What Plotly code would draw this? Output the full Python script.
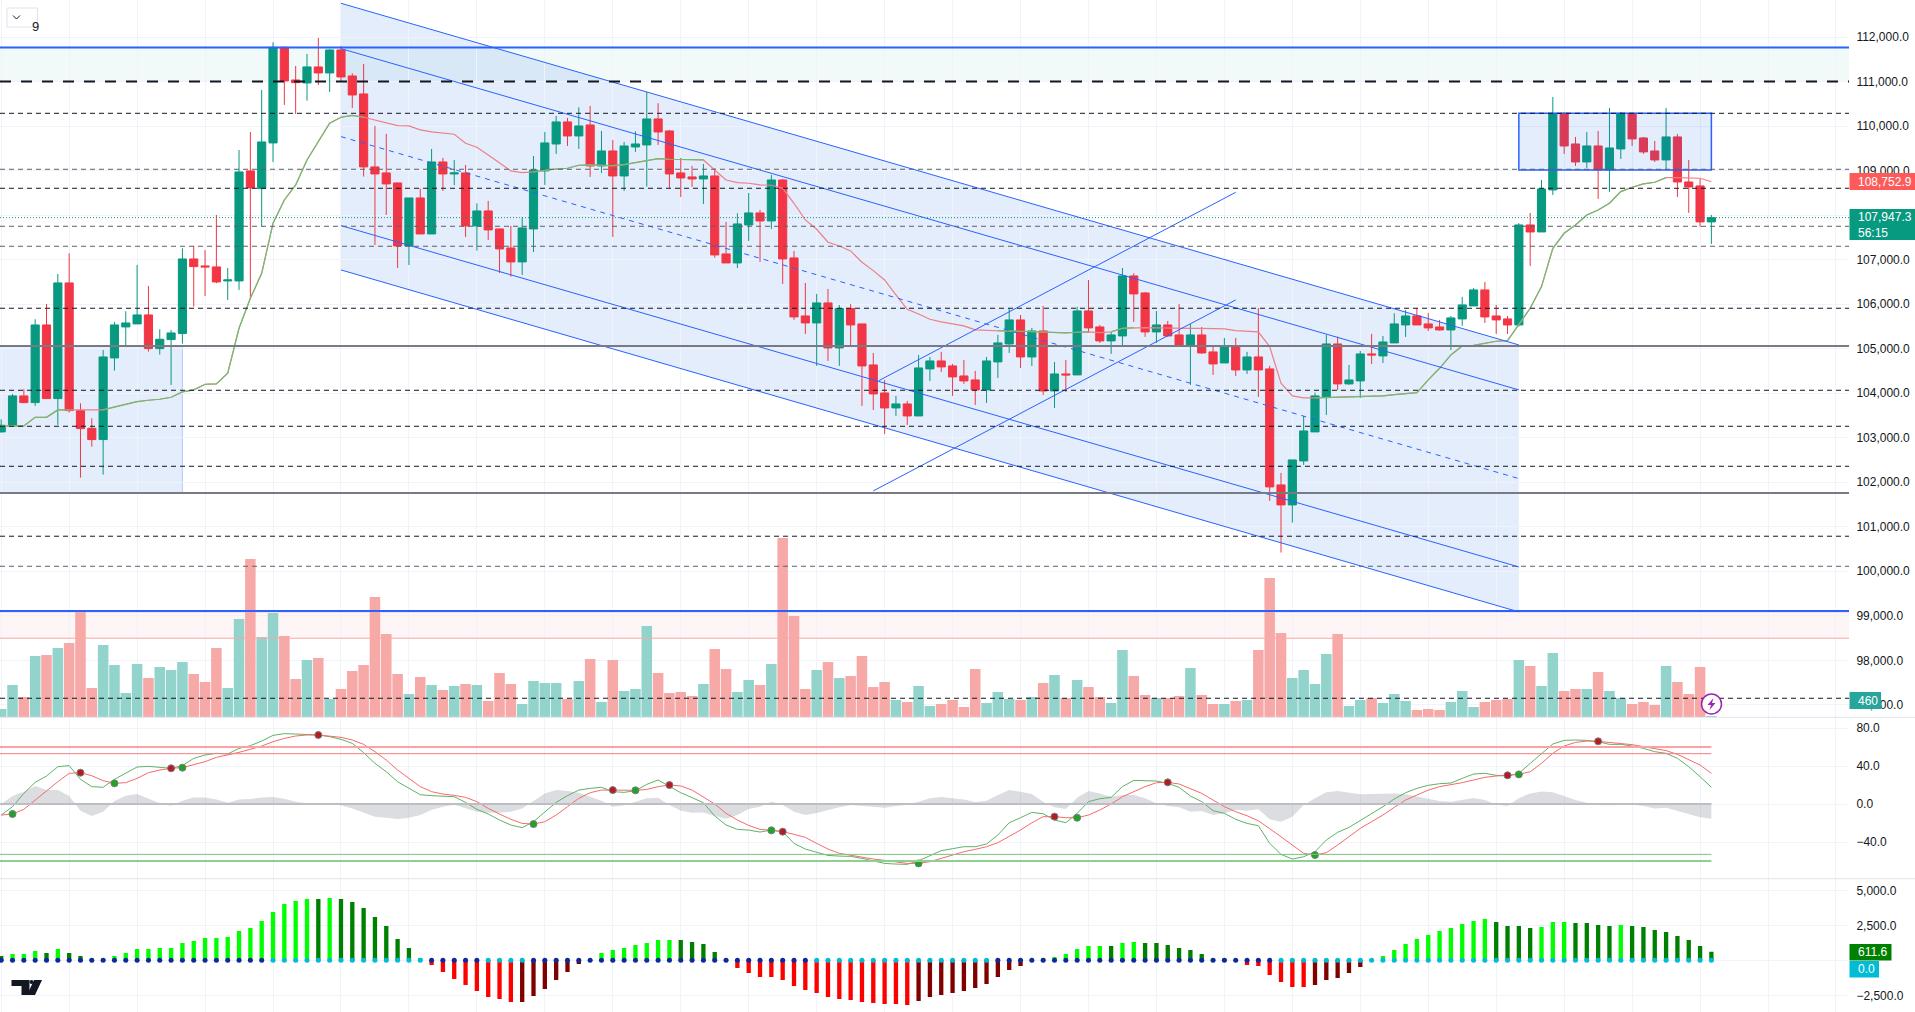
import plotly.graph_objects as go
from plotly.subplots import make_subplots

# candles
opens = [103132, 103267, 103941, 103791, 105536, 103881, 106480, 103611, 103214, 102960,
         104795, 105491, 105559, 105761, 105004, 105207, 105342, 107019, 106862, 106840,
         106525, 106525, 108997, 108600, 109626, 111775, 111041, 110974, 111334, 111199,
         111715, 111131, 110727, 109087, 108952, 108727, 107311, 108390, 107581, 109199,
         108929, 108952, 107761, 108098, 107693, 107266, 106952, 107693, 108997, 109603,
         110098, 109783, 110030, 109109, 109446, 108884, 109536, 109581, 110165, 109895,
         108952, 108862, 108817, 108884, 107132, 106929, 107783, 108053, 107873, 108794,
         107042, 105738, 105581, 106031, 105019, 105903, 105559, 104637, 104008, 103671,
         103761, 103491, 104548, 104727, 104615, 104390, 104300, 104076, 104705, 105109,
         105649, 104817, 105401, 104053, 104435, 104413, 105851, 105491, 105177, 105289,
         106637, 106255, 105379, 105536, 105312, 105087, 105312, 104930, 104682, 105042,
         104525, 104817, 104548, 101941, 101492, 102480, 103132, 103918, 105109, 104211,
         104278, 104885, 104840, 105132, 105536, 105738, 105559, 105491, 105424, 105671,
         105963, 106323, 105738, 105671, 105536, 107783, 107626, 108570, 110292, 109603,
         109199, 109558, 109019, 109491, 110292, 109738, 109446, 109244, 109761, 108749,
         108660, 107851]
highs = [103417, 103986, 104091, 105664, 106008, 106682, 107147, 103776, 103439, 104974,
         105604, 105843, 106884, 106413, 105439, 105424, 107259, 107311, 107221, 108008,
         106817, 109468, 109873, 110817, 111888, 111790, 111356, 111626, 111985, 111730,
         111805, 111191, 111401, 110008, 109828, 108734, 108390, 108600, 109491, 109289,
         109244, 109131, 108270, 108323, 107701, 107761, 107956, 109334, 109873, 110232,
         110188, 110427, 110457, 109895, 109693, 109648, 109888, 110772, 110517, 109918,
         109289, 109109, 109154, 109057, 107851, 108045, 108502, 108120, 108907, 108817,
         107199, 106480, 106233, 106345, 105986, 106008, 105559, 104907, 104300, 103941,
         103829, 104862, 104817, 104930, 104660, 104750, 104503, 104817, 105312, 105896,
         105761, 105469, 105963, 104705, 104750, 105941, 106547, 105536, 105379, 106817,
         106697, 106278, 105851, 105626, 106008, 105559, 105491, 105064, 105244, 105244,
         104930, 105918, 104615, 102211, 102503, 103491, 104016, 105312, 105274, 104637,
         104952, 105334, 105289, 105798, 105873, 105918, 105806, 105649, 105738, 106165,
         106368, 106502, 105986, 105738, 107821, 108053, 108794, 110659, 110322, 109761,
         109873, 109895, 110412, 110322, 110292, 109761, 109671, 110412, 109828, 109244,
         108817, 108008]
lows = [103117, 103252, 103776, 103716, 103873, 103289, 103566, 102106, 102802, 102173,
        104510, 105079, 105559, 104937, 104870, 104188, 105117, 105948, 106188, 106472,
        106098, 106323, 106113, 107746, 109199, 110480, 110277, 110577, 110929, 110772,
        111019, 110412, 108869, 107334, 108008, 106817, 106884, 107581, 107581, 108547,
        108675, 107514, 107207, 107446, 106705, 106622, 106660, 107177, 108682, 109379,
        109558, 109491, 108862, 108952, 107514, 108547, 109424, 108645, 109581, 108615,
        108412, 108637, 108255, 107049, 106929, 106817, 107424, 106952, 107693, 106458,
        105649, 105334, 104615, 104727, 104615, 105064, 103716, 103626, 103087, 103491,
        103289, 103491, 104278, 104480, 103941, 104211, 103739, 103784, 104345, 104907,
        104570, 104615, 103963, 103671, 104031, 104413, 105356, 105132, 104885, 105064,
        105604, 105267, 105132, 105267, 105087, 104188, 104885, 104413, 104682, 104390,
        104435, 103918, 101582, 100421, 101095, 102390, 103132, 103514, 104076, 104188,
        103896, 104660, 104682, 105132, 105267, 105536, 105401, 105409, 104974, 105514,
        105963, 105581, 105334, 105334, 105499, 106862, 107626, 108457, 109379, 109109,
        109064, 108367, 108525, 109266, 109558, 109379, 109199, 109019, 108412, 108053,
        107738, 107356]
closes = [103282, 103941, 103791, 105536, 103881, 106480, 103611, 103207, 102960, 104817,
          105536, 105581, 105761, 105004, 105214, 105356, 107019, 106847, 106840, 106502,
          106547, 108974, 108615, 109648, 111775, 111019, 110981, 111334, 111199, 111715,
          111109, 110704, 109087, 108929, 108705, 107311, 108390, 107581, 109199, 108929,
          108952, 107761, 108098, 107671, 107244, 106952, 107716, 109019, 109626, 110098,
          109783, 110008, 109109, 109446, 108884, 109558, 109603, 110165, 109873, 108929,
          108839, 108817, 108884, 107109, 106929, 107806, 108053, 107873, 108794, 107019,
          105716, 105581, 106031, 105019, 105903, 105536, 104615, 103986, 103671, 103761,
          103491, 104570, 104727, 104593, 104368, 104278, 104076, 104727, 105132, 105649,
          104817, 105401, 104053, 104435, 104413, 105851, 105469, 105177, 105312, 106637,
          106233, 105379, 105536, 105289, 105087, 105312, 104907, 104660, 105042, 104525,
          104817, 104525, 101896, 101492, 102503, 103154, 103941, 105109, 104211, 104300,
          104885, 104862, 105154, 105559, 105738, 105536, 105469, 105424, 105694, 105986,
          106323, 105716, 105649, 105536, 107783, 107626, 108592, 110292, 109558, 109199,
          109558, 109019, 109513, 110292, 109716, 109424, 109244, 109761, 108749, 108637,
          107851, 107947.3]
volumes = [2875, 11155, 7015, 21160, 21505, 23920, 25645, 36685, 10120, 24955,
           18055, 8395, 18400, 13570, 17365, 16330, 19090, 14950, 12190, 23920,
           10120, 33925, 54625, 27715, 35995, 28060, 13225, 19780, 20470, 6325,
           9775, 15985, 18055, 41515, 28750, 14950, 8050, 13915, 11155, 9430,
           10810, 11500, 11155, 5635, 15295, 11500, 4600, 12535, 11845, 11845,
           6325, 12535, 20125, 5290, 19780, 9085, 9775, 31510, 15295, 8395,
           8740, 7360, 11500, 23575, 16675, 8740, 12880, 11155, 18400, 61870,
           34960, 9775, 16330, 19090, 13570, 14260, 21160, 10465, 12190, 5980,
           5290, 10810, 3910, 4600, 5980, 3565, 16675, 4945, 8740, 6325,
           5980, 7015, 11845, 14605, 6670, 12880, 10465, 7015, 4945, 23230,
           14260, 7705, 6670, 6670, 7360, 17020, 7705, 4600, 4600, 5635,
           5980, 23230, 48070, 29095, 13570, 16330, 11500, 21850, 28750, 3910,
           5980, 6670, 4945, 8050, 5635, 2530, 2875, 2530, 5290, 9085,
           3565, 5290, 5980, 6325, 19780, 17710, 10810, 22195, 9085, 9775,
           9775, 15640, 9085, 6670, 4600, 5290, 4255, 17710, 12190, 8050,
           17365, 460]
ema = [103267, 103267, 103267, 103461, 103461, 103627, 103627, 103611, 103611, 103627,
       103694, 103754, 103814, 103844, 103866, 103911, 104031, 104076, 104203, 104211,
       104450, 105461, 106135, 106697, 107821, 108345, 108682, 109244, 109656, 110068,
       110203, 110247, 110203, 110143, 110083, 110015, 110008, 109918, 109873, 109843,
       109821, 109618, 109528, 109356, 109184, 108997, 108959, 108974, 109012, 109042,
       109057, 109124, 109131, 109117, 109117, 109139, 109184, 109229, 109274, 109259,
       109259, 109251, 109244, 109019, 108794, 108734, 108720, 108682, 108675, 108607,
       108270, 107896, 107686, 107394, 107311, 107199, 106944, 106757, 106547, 106210,
       105888, 105783, 105664, 105604, 105566, 105514, 105424, 105409, 105409, 105394,
       105394, 105387, 105379, 105372, 105357, 105372, 105379, 105364, 105379, 105461,
       105476, 105476, 105469, 105461, 105461, 105461, 105461, 105454, 105446, 105409,
       105394, 105379, 105049, 104226, 103941, 103896, 103896, 103904, 103911, 103918,
       103926, 103933, 103941, 103971, 104001, 104016, 104300, 104562, 104862, 105064,
       105079, 105124, 105169, 105184, 105536, 105911, 106398, 107259, 107596, 107783,
       108008, 108120, 108270, 108532, 108630, 108705, 108742, 108847, 108847, 108839,
       108832, 108752.9]
ema_up_spans = [(0, 6), (9, 32), (47, 62), (88, 96), (98, 100), (116, 147)]

# oscillator pane
wt_fast = [-11.6, -2.8, 11.2, 22.8, 29.5, 39.3, 40.4, 26.0, 18.3, 17.6,
           26.0, 32.3, 39.0, 39.7, 39.0, 37.6, 40.4, 48.1, 51.6, 53.4,
           52.7, 58.6, 61.4, 66.3, 72.3, 74.1, 73.7, 73.0, 72.7, 70.9,
           68.1, 63.9, 54.1, 42.8, 34.0, 23.5, 16.5, 9.8, 8.8, 8.1,
           7.7, 1.8, -5.6, -10.5, -16.8, -22.1, -24.9, -18.6, -8.1, 1.8,
           8.8, 14.7, 16.5, 17.6, 13.0, 12.3, 14.0, 20.7, 25.3, 19.0,
           11.9, 6.7, 1.4, -12.6, -22.1, -26.7, -27.4, -29.5, -27.4, -29.1,
           -41.4, -47.4, -50.9, -54.1, -54.8, -55.1, -57.2, -60.0, -62.5, -63.2,
           -63.5, -59.7, -54.8, -49.1, -47.0, -44.9, -44.9, -42.1, -32.6, -19.7,
           -14.4, -8.8, -10.2, -16.8, -19.7, -9.8, 2.5, 5.6, 7.0, 18.3,
           24.9, 24.9, 24.2, 21.8, 17.6, 8.4, 2.5, -7.0, -9.8, -16.1,
           -20.4, -22.8, -41.4, -53.0, -57.9, -55.5, -50.2, -37.9, -29.8, -24.6,
           -17.6, -9.8, -2.8, 5.3, 11.9, 16.5, 19.7, 21.4, 22.1, 27.0,
           31.6, 32.3, 30.2, 29.5, 32.3, 42.8, 53.4, 63.2, 67.0, 67.4,
           67.0, 65.6, 62.8, 62.8, 61.1, 58.6, 55.1, 53.4, 48.1, 39.3,
           28.8, 17.6]
wt_slow = [-11.6, -10.5, -5.6, 4.2, 14.7, 23.5, 32.3, 33.0, 29.8, 24.6,
           21.8, 22.5, 27.0, 33.0, 35.8, 37.6, 38.3, 41.1, 44.6, 49.1,
           51.6, 54.4, 57.6, 61.1, 65.6, 69.1, 71.6, 72.7, 72.7, 71.6,
           70.2, 67.4, 62.8, 55.1, 46.3, 35.8, 27.0, 18.3, 13.0, 10.5,
           9.1, 7.0, 2.5, -4.6, -10.5, -16.1, -20.4, -21.1, -18.6, -11.6,
           -2.8, 6.0, 11.9, 14.7, 14.7, 14.7, 14.4, 15.4, 18.3, 20.0,
           19.0, 14.7, 7.7, 0, -9.8, -16.8, -22.5, -26.7, -27.7, -29.1,
           -31.9, -35.1, -41.4, -47.4, -51.9, -54.1, -56.2, -57.9, -59.3, -60.7,
           -62.5, -62.5, -60.7, -57.2, -53.7, -50.2, -47.7, -44.9, -40.7, -34.4,
           -27.4, -19.7, -13.3, -13.3, -14.4, -14.4, -11.6, -6.3, 0, 7.7,
           13.0, 18.3, 22.5, 22.8, 21.1, 16.5, 11.2, 4.2, -2.8, -8.1,
           -12.3, -17.6, -25.6, -34.4, -43.2, -51.9, -53.7, -51.2, -43.2, -34.4,
           -25.6, -18.6, -11.6, -3.5, 4.2, 9.5, 14.7, 18.3, 20.0, 22.5,
           25.3, 28.1, 29.5, 30.2, 31.2, 34.0, 42.8, 53.4, 61.1, 64.9,
           66.3, 66.0, 64.9, 63.9, 62.5, 60.4, 58.6, 56.2, 52.3, 47.0,
           41.1, 32.3]
wt_diff = [0, 8.4, 13.0, 19.0, 14.7, 14.7, 8.4, -7.0, -12.6, -8.1,
           3.2, 8.8, 10.5, 5.3, 0.7, -1.8, 3.5, 7.0, 7.0, 4.9,
           1.4, 4.9, 5.3, 7.0, 7.4, 5.6, 2.5, 0.7, 0, -0.7,
           -1.4, -4.6, -9.1, -13.3, -14.4, -15.8, -14.4, -11.6, -6.3, -2.8,
           -0.7, -4.6, -8.1, -9.1, -9.1, -8.1, -4.6, 3.2, 11.2, 14.7,
           13.7, 11.9, 7.7, 3.5, -2.8, -1.4, 2.5, 6.0, 6.7, -1.1,
           -7.0, -9.1, -8.8, -12.6, -15.4, -11.6, -5.3, -2.8, 2.5, -1.1,
           -8.1, -11.6, -9.5, -6.3, -3.5, -1.1, -2.1, -3.5, -3.9, -2.1,
           -0.7, 2.5, 6.0, 7.4, 6.0, 4.9, 2.1, 3.5, 9.5, 14.7,
           13.0, 10.5, 2.5, -3.5, -5.3, 6.7, 13.7, 11.2, 7.7, 9.5,
           9.5, 6.0, 0.7, -2.1, -3.5, -8.1, -7.4, -11.6, -9.8, -6.3,
           -7.0, -5.6, -16.1, -18.6, -13.3, -1.1, 6.0, 12.3, 13.7, 11.9,
           10.2, 10.5, 11.2, 11.2, 10.2, 7.7, 5.3, 3.2, 2.5, 4.2,
           6.3, 4.2, -0.4, -2.1, 6.0, 11.2, 13.3, 12.3, 8.4, 4.2,
           1.4, -1.1, -1.4, -0.7, -0.4, -2.1, -4.6, -3.9, -7.0, -10.5,
           -14.0, -15.4]
cross_down_bars = [7, 15, 28, 54, 59, 69, 93, 103, 133, 141]
cross_up_bars = [1, 10, 16, 47, 56, 68, 81, 95, 116, 134]
osc_ticks = [80, 40, 0, -40]
osc_red_levels = [60, 53]
osc_green_levels = [-53, -60]

# squeeze momentum pane
momentum = [309, 452, 452, 666, 524, 809, 524, 309, 71, 71,
            309, 524, 809, 809, 881, 881, 1238, 1380, 1595, 1595,
            1666, 2094, 2309, 2808, 3451, 4022, 4236, 4379, 4379, 4451,
            4379, 4165, 3737, 3094, 2451, 1523, 881, 167, -333, -833,
            -1333, -1761, -2190, -2618, -2761, -2975, -2975, -2547, -2047, -1404,
            -833, -262, -20, 524, 738, 881, 1095, 1238, 1452, 1452,
            1452, 1309, 1166, 595, 71, -547, -904, -1190, -1190, -1404,
            -1833, -2118, -2332, -2618, -2761, -2832, -2975, -3046, -3118, -3118,
            -3189, -2904, -2618, -2475, -2332, -2190, -1975, -1690, -1190, -690,
            -405, -20, 143, 238, 452, 809, 1023, 1023, 1023, 1238,
            1309, 1238, 1238, 1095, 881, 738, 452, 71, 71, 20,
            -333, -405, -1047, -1547, -1904, -1904, -1761, -1404, -1261, -904,
            -476, -20, 309, 738, 1166, 1523, 1809, 2094, 2309, 2594,
            2808, 2951, 2737, 2451, 2451, 2309, 2380, 2737, 2737, 2666,
            2666, 2523, 2451, 2523, 2451, 2380, 2166, 2023, 1737, 1452,
            1023, 611.6]
momentum_kinds = ("g" + "l" * 3 + "g" + "l" + "g" * 4 + "l" * 18 + "g" + "l" + "g" * 7 + "l"
                  + "r" * 8 + "m" * 7 + "l" * 7 + "g" * 5 + "r" * 16 + "m" * 11 + "l" * 6
                  + "g" + "l" * 2 + "g" * 9 + "r" * 6 + "m" * 6 + "l" * 10 + "g" * 4 + "l" * 3
                  + "g" * 4 + "l" + "g" * 8)
squeeze_kinds = "b" * 24 + "c" * 14 + "b" * 5 + "c" * 4 + "b" * 25 + "c" * 16 + "b" * 25 + "c" * 39
momentum_ticks = [5000, 2500, 0, -2500]
# the 0.0 tag sits on top of the zero tick
momentum_tick_labels = ["5,000.0", "2,500.0", "", "\u22122,500.0"]

# drawings on the price pane
price_ticks = [112000, 111000, 110000, 109000, 108000, 107000, 106000, 105000,
               104000, 103000, 102000, 101000, 100000, 99000, 98000, 97000]
black_levels = [110292, 108607, 105911, 104068, 103259, 102360, 100788, 97147]
gray_dash_levels = [109034, 107753, 107304, 100113]
gray_solid_levels = [105064, 101761]
blue_levels = [111768, 99110]
upper_zone = (111004, 111768)
lower_zone = (98496, 99090)
last_price = 107947.3
channel_bars = (30, 134)
channel_top = (112764, 105087)
channel_upper = (111745, 104076)
channel_mid = (109768, 102083)
channel_lower = (107768, 100098)
channel_bottom = (106772, 99088)
rising_upper = ((77.5, 104286), (109, 108517))
rising_lower = ((77, 101806), (109, 106098))
left_box = (-1, 16, 101761, 105064)
range_box = (134, 151, 109019, 110292)

for name, arr in [("opens", opens), ("highs", highs), ("lows", lows), ("closes", closes),
                  ("volumes", volumes), ("ema", ema), ("wt_fast", wt_fast), ("wt_slow", wt_slow),
                  ("wt_diff", wt_diff), ("momentum", momentum), ("kinds", momentum_kinds),
                  ("squeeze", squeeze_kinds)]:
    if len(arr) != 152:
        raise ValueError(f"{name} has {len(arr)}")

UP = "#089981"
DOWN = "#F23645"
BLUE = "#2962FF"
GRID = "#F0F3FA"
TEXT = "#131722"
W, H = 1915, 1012
PLOT_W = 1849
bars = list(range(len(closes)))


def px(x):
    return x / PLOT_W


def py(y):
    return 1 - y / H


fig = make_subplots(rows=3, cols=1, shared_xaxes=True, vertical_spacing=0,
                    row_heights=[717.3, 161.4, 133.3],
                    specs=[[{"secondary_y": True}], [{}], [{}]])

# price pane
fig.add_trace(go.Candlestick(
    x=bars, open=opens, high=highs, low=lows, close=closes,
    increasing=dict(line=dict(color=UP, width=1), fillcolor=UP),
    decreasing=dict(line=dict(color=DOWN, width=1), fillcolor=DOWN),
    whiskerwidth=0, hoverinfo="skip", showlegend=False), row=1, col=1)
fig.add_trace(go.Scatter(x=bars, y=ema, mode="lines", line=dict(color="#EE7F86", width=1.2),
                         hoverinfo="skip", showlegend=False), row=1, col=1)
for a, b in ema_up_spans:
    fig.add_trace(go.Scatter(x=bars[a:b + 1], y=ema[a:b + 1], mode="lines",
                             line=dict(color="#6DBE72", width=1.2),
                             hoverinfo="skip", showlegend=False), row=1, col=1)
vol_colors = ["#92D3CC" if c >= o else "#F7A9A7" for o, c in zip(opens, closes)]
fig.add_trace(go.Bar(x=bars, y=volumes, marker=dict(color=vol_colors, line_width=0), width=0.93,
                     hoverinfo="skip", showlegend=False), row=1, col=1, secondary_y=True)

# oscillator pane
fig.add_trace(go.Scatter(x=bars, y=wt_diff, mode="lines", line=dict(width=0), fill="tozeroy",
                         fillcolor="rgba(120,123,134,0.26)", hoverinfo="skip", showlegend=False),
              row=2, col=1)
fig.add_trace(go.Scatter(x=bars, y=wt_fast, mode="lines", line=dict(color="#5FB266", width=1),
                         hoverinfo="skip", showlegend=False), row=2, col=1)
fig.add_trace(go.Scatter(x=bars, y=wt_slow, mode="lines", line=dict(color="#F56B6B", width=1),
                         hoverinfo="skip", showlegend=False), row=2, col=1)
fig.add_trace(go.Scatter(x=cross_down_bars, y=[wt_slow[i] for i in cross_down_bars], mode="markers",
                         marker=dict(color="#B71C1C", size=7, line=dict(color="#787B86", width=1)),
                         hoverinfo="skip", showlegend=False), row=2, col=1)
fig.add_trace(go.Scatter(x=cross_up_bars, y=[wt_slow[i] for i in cross_up_bars], mode="markers",
                         marker=dict(color="#1FA51F", size=7, line=dict(color="#787B86", width=1)),
                         hoverinfo="skip", showlegend=False), row=2, col=1)

# momentum pane
kind_colors = {"l": "#00FF00", "g": "#008000", "r": "#FF0000", "m": "#800000"}
dot_colors = {"b": "#0D2A9B", "c": "#00BCD4"}
fig.add_trace(go.Bar(x=bars, y=momentum, marker=dict(color=[kind_colors[k] for k in momentum_kinds], line_width=0),
                     width=0.38, hoverinfo="skip", showlegend=False), row=3, col=1)
fig.add_trace(go.Scatter(x=bars, y=[0] * len(bars), mode="markers",
                         marker=dict(color=[dot_colors[k] for k in squeeze_kinds], size=5),
                         hoverinfo="skip", showlegend=False), row=3, col=1)

# zones and channels
fill_blue = "rgba(33,110,230,0.12)"
fig.add_hrect(y0=upper_zone[0], y1=upper_zone[1], fillcolor="rgba(8,153,129,0.05)", line_width=0,
              layer="below", row=1, col=1)
fig.add_hrect(y0=lower_zone[0], y1=lower_zone[1], fillcolor="rgba(242,54,69,0.05)", line_width=0,
              layer="below", row=1, col=1)
fig.add_shape(type="path",
              path=f"M {channel_bars[0]} {channel_top[0]} L {channel_bars[1]} {channel_top[1]} "
                   f"L {channel_bars[1]} {channel_bottom[1]} L {channel_bars[0]} {channel_bottom[0]} Z",
              fillcolor=fill_blue, line_width=0, layer="below", row=1, col=1)
fig.add_shape(type="rect", x0=left_box[0], x1=left_box[1], y0=left_box[2], y1=left_box[3],
              fillcolor=fill_blue, line=dict(color="rgba(41,98,255,0.3)", width=1), layer="below", row=1, col=1)
fig.add_shape(type="rect", x0=range_box[0], x1=range_box[1], y0=range_box[2], y1=range_box[3],
              fillcolor=fill_blue, line=dict(color=BLUE, width=1.5), row=1, col=1)

for ch in [channel_top, channel_upper, channel_lower, channel_bottom]:
    fig.add_shape(type="line", x0=channel_bars[0], x1=channel_bars[1], y0=ch[0], y1=ch[1],
                  line=dict(color=BLUE, width=1), row=1, col=1)
fig.add_shape(type="line", x0=channel_bars[0], x1=channel_bars[1], y0=channel_mid[0], y1=channel_mid[1],
              line=dict(color=BLUE, width=1, dash="5px,5px"), row=1, col=1)
for (a, b) in [rising_upper, rising_lower]:
    fig.add_shape(type="line", x0=a[0], x1=b[0], y0=a[1], y1=b[1], line=dict(color=BLUE, width=1), row=1, col=1)

# horizontal levels
for p in black_levels:
    fig.add_hline(y=p, line=dict(color="#131722", width=1, dash="5px,4px"), row=1, col=1)
fig.add_hline(y=upper_zone[0], line=dict(color="#131722", width=2, dash="11px,10px"), row=1, col=1)
for p in gray_dash_levels:
    fig.add_hline(y=p, line=dict(color="#5D606B", width=1, dash="5px,4px"), row=1, col=1)
for p in gray_solid_levels:
    fig.add_hline(y=p, line=dict(color="#787B86", width=2), row=1, col=1)
fig.add_hline(y=lower_zone[1], line=dict(color="#F7A9A7", width=1), row=1, col=1)
fig.add_hline(y=lower_zone[0], line=dict(color="#F7A9A7", width=1), row=1, col=1)
for p in blue_levels:
    fig.add_hline(y=p, line=dict(color=BLUE, width=2), row=1, col=1)
fig.add_hline(y=last_price, line=dict(color=UP, width=1, dash="1px,2px"), row=1, col=1)

# oscillator levels stop at the last bar
last_bar = bars[-1]
for lv, color, w in zip(osc_red_levels, ["#F9A3A3", "#F77C80"], [2, 1]):
    fig.add_shape(type="line", x0=-1, x1=last_bar, y0=lv, y1=lv, line=dict(color=color, width=w), row=2, col=1)
for lv, color, w in zip(osc_green_levels, ["#7CC47F", "#8FCF92"], [1, 2]):
    fig.add_shape(type="line", x0=-1, x1=last_bar, y0=lv, y1=lv, line=dict(color=color, width=w), row=2, col=1)
fig.add_shape(type="line", x0=-1, x1=last_bar, y0=0, y1=0, line=dict(color="#BDBEC3", width=2), row=2, col=1)

# pane separators
for y in [717.3, 878.7]:
    fig.add_shape(type="line", xref="paper", yref="paper", x0=0, x1=px(W), y0=py(y), y1=py(y),
                  line=dict(color="#E0E3EB", width=1))


def tag(y0, y1, x1, color, text):
    fig.add_shape(type="rect", xref="paper", yref="paper", x0=px(1849.5), x1=px(x1), y0=py(y0), y1=py(y1),
                  fillcolor=color, line_width=0)
    fig.add_annotation(xref="paper", yref="paper", x=px(1857), y=py((y0 + y1) / 2), text=text, showarrow=False,
                       xanchor="left", yanchor="middle", align="left", borderpad=0,
                       font=dict(color="white", size=12, family="Liberation Sans, Arial, sans-serif"))


tag(173, 190, W, "#FF5A5A", "108,752.9")
tag(209, 240, W, UP, "107,947.3<br>56:15")
tag(692, 709, 1881, "#26A69A", "460")
tag(944, 960.5, 1891.5, "#008000", "611.6")
tag(961, 977.5, 1879, "#00BCD4", "0.0")

# collapse button
fig.add_shape(type="rect", xref="paper", yref="paper", x0=px(7), x1=px(37.5), y0=py(8), y1=py(27),
              fillcolor="white", line=dict(color="#E0E3EB", width=1))
fig.add_shape(type="path", xref="paper", yref="paper",
              path=f"M {px(13)} {py(15.5)} L {px(16.5)} {py(19)} L {px(20)} {py(15.5)}",
              line=dict(color=TEXT, width=1))
fig.add_annotation(xref="paper", yref="paper", x=px(29.5), y=py(17.5), text="9", showarrow=False,
                   font=dict(color=TEXT, size=13, family="Liberation Sans, Arial, sans-serif"))

# TradingView mark
fig.add_shape(type="path", xref="paper", yref="paper", fillcolor="#131722", line_width=0,
              path=f"M {px(11.5)} {py(980)} L {px(29.5)} {py(980)} L {px(29.5)} {py(995)} L {px(21.5)} {py(995)} "
                   f"L {px(21.5)} {py(986)} L {px(11.5)} {py(986)} Z")
fig.add_shape(type="path", xref="paper", yref="paper", fillcolor="#131722", line_width=0,
              path=f"M {px(42)} {py(980)} L {px(35)} {py(995)} L {px(27)} {py(995)} L {px(34)} {py(980)} Z")
fig.add_shape(type="circle", xref="paper", yref="paper", fillcolor="#131722", line_width=0,
              x0=px(29.5), x1=px(33.5), y0=py(980), y1=py(984))

# lightning badge at the last volume bar
fig.add_shape(type="circle", xref="paper", yref="paper", fillcolor="white", line=dict(color="#9C27B0", width=1.5),
              x0=px(1701.5), x1=px(1721.5), y0=py(694), y1=py(714))
fig.add_shape(type="path", xref="paper", yref="paper", fillcolor="#9C27B0", line_width=0,
              path=f"M {px(1713.5)} {py(698)} L {px(1707.5)} {py(705)} L {px(1711)} {py(705)} "
                   f"L {px(1709.5)} {py(710)} L {px(1715.5)} {py(703)} L {px(1712)} {py(703)} Z")

font = dict(family="Liberation Sans, Arial, sans-serif", size=12, color=TEXT)
# secondary_y leaves a gap on the right of the x domain, so reset it
fig.update_xaxes(domain=[0, 1], range=[-0.106, 163.15], dtick=6, tick0=0, showgrid=True, gridcolor=GRID, gridwidth=1,
                 showticklabels=False, ticks="", zeroline=False, showline=False,
                 rangeslider_visible=False, fixedrange=True, automargin=False)
axis_common = dict(showgrid=True, gridcolor=GRID, gridwidth=1, zeroline=False, showline=False, side="right",
                   ticks="outside", ticklen=4, tickcolor="rgba(0,0,0,0)", tickfont=font, tickformat=",.1f",
                   tickmode="array", fixedrange=True, automargin=False)
fig.update_yaxes(range=[96719, 112838], tickvals=price_ticks, row=1, col=1, secondary_y=False, **axis_common)
fig.update_yaxes(range=[0, 247468], visible=False, showgrid=False, row=1, col=1, secondary_y=True)
fig.update_yaxes(range=[-78.6, 91.3], tickvals=osc_ticks, row=2, col=1, **axis_common)
fig.update_yaxes(range=[-3693, 5829], tickvals=momentum_ticks, ticktext=momentum_tick_labels,
                 row=3, col=1, **axis_common)

fig.update_layout(width=W, height=H, margin=dict(l=0, r=W - PLOT_W, t=0, b=0), autosize=False,
                  paper_bgcolor="white", plot_bgcolor="white", showlegend=False,
                  boxgap=0.28, boxgroupgap=0, barmode="overlay", hovermode=False, font=font)

fig.write_html("out.html", config={"displayModeBar": False},
               post_script="document.body.style.margin='0';document.body.style.overflow='hidden';")
